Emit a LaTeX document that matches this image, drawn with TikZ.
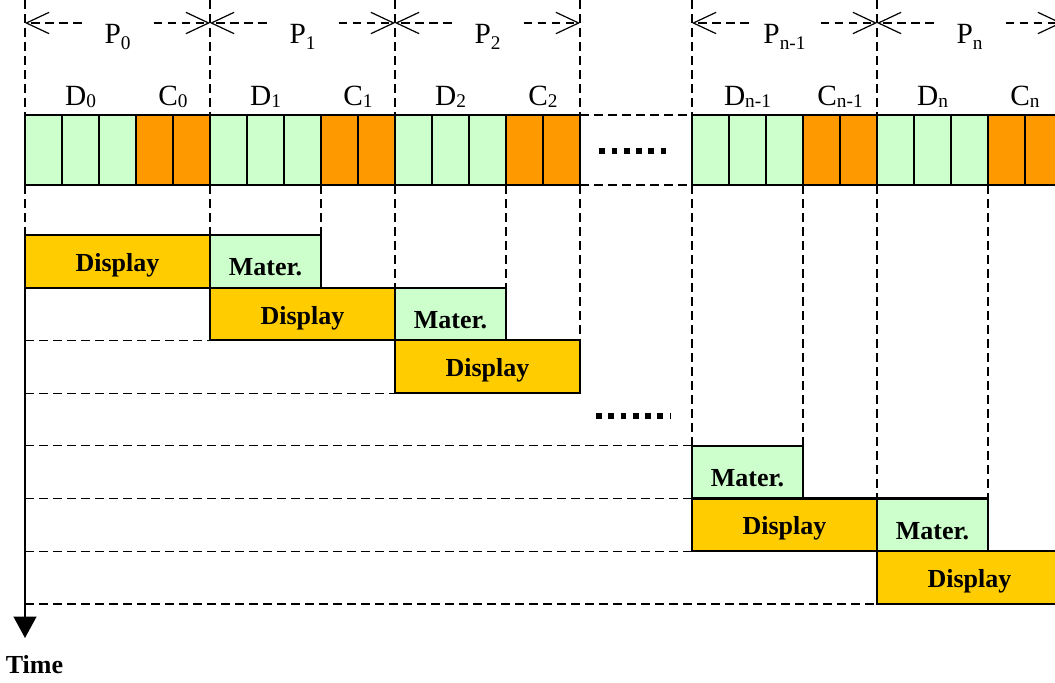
\documentclass[tikz,border=0pt]{standalone}
\usepackage{fontspec}
\setmainfont{Liberation Serif}
\usetikzlibrary{arrows.meta, positioning}

\definecolor{datagreen}{RGB}{204,255,204}
\definecolor{ctrlorange}{RGB}{255,153,0}
\definecolor{showgold}{RGB}{255,204,0}

% Lowered indices for period and part labels
\newcommand\psub[1]{\raisebox{-0.2em}{\fontsize{14.5}{14.5}\selectfont #1}}
\newcommand\dsub[1]{\raisebox{-0.07em}{\fontsize{14.5}{14.5}\selectfont #1}}

% One drawing unit and the row height of the schedule
\def\px{0.75pt}
\def\rowh{52.7}

\begin{document}
\begin{tikzpicture}[x=\px, y=-\px, line join=miter,
    >={Straight Barb[length=17pt, width=16pt]},
    guide/.style={dash pattern=on 6.5pt off 4pt, line width=0.9pt},
    spanarrow/.style={guide, ->},
    cell/.style={draw, line width=1.6pt, inner sep=0, outer sep=0, anchor=north west,
        minimum width=37*\px, minimum height=70*\px},
    dcell/.style={cell, fill=datagreen},
    ccell/.style={cell, fill=ctrlorange},
    lbl/.style={anchor=base, inner sep=0, font=\fontsize{22}{26}\selectfont},
    task/.style={draw, line width=1.6pt, inner sep=0, outer sep=0, anchor=north west,
        minimum height=\rowh*\px, text depth=0pt,
        font=\bfseries\fontsize{19.5}{22}\selectfont},
    disp/.style={task, fill=showgold, minimum width=185*\px, text height=15pt},
    mater/.style={task, fill=datagreen, minimum width=111*\px, text height=21.7pt},
    ellip/.style={line width=4.3pt, dash pattern=on 4.3pt off 4.9pt}]

    % Frame
    \useasboundingbox (0,0) rectangle (1055,682);
    \clip (0,0) rectangle (1055,682);

    % Periods: three data cells and two control cells each
    \foreach \s/\nm/\ix in {25/0/0, 210/1/1, 395/2/2, 692/m/n-1, 877/n/n} {
        \foreach \k in {0,1,2}
            \node[dcell] (c\nm\k) at (\s+\k*37, 115) {};
        \foreach \k in {3,4}
            \node[ccell] (c\nm\k) at (\s+\k*37, 115) {};
        \node[lbl] (d\nm) at ([yshift=7.5pt]c\nm1.north) {D\dsub{\ix}};
        \node[lbl] (k\nm) at ([yshift=7.5pt]c\nm3.north east) {C\dsub{\ix}};

        % Period span
        \coordinate (top\nm) at (\s, 0);
        \coordinate (s\nm) at (\s, 23);
        \coordinate (e\nm) at (\s+185, 23);
        \node[inner sep=0, outer sep=0, minimum width=72*\px] (g\nm) at (\s+92.5, 23) {};
        \node[lbl] (p\nm) at (\s+92.5, 43.3) {P\psub{\ix}};
        \draw[spanarrow] (g\nm.west) -- (s\nm);
        \draw[spanarrow] (g\nm.east) -- (e\nm);
        \draw[guide] (top\nm) -- (c\nm0.north west);
    }
    \coordinate (top3) at (580, 0);
    \draw[guide] (top3) -- (c24.north east);

    % Gap in the stream
    \draw[guide] (c24.north east) -- (cm0.north west);
    \draw[guide] (c24.south east) -- (cm0.south west);
    \coordinate (el1) at (599.3, 151);
    \coordinate (er1) at (672.8, 151);
    \draw[ellip] (el1) -- (er1);

    % Schedule
    \node[disp] (show0) at (25, 235) {Display};
    \node[mater] (mat1) at (show0.north east) {Mater.};
    \node[disp] (show1) at (show0.south east) {Display};
    \node[mater] (mat2) at (show1.north east) {Mater.};
    \node[disp] (show2) at (show1.south east) {Display};
    \node[mater] (matm) at (692, 235+4*\rowh) {Mater.};
    \node[disp] (showm) at (matm.south west) {Display};
    \node[mater] (matn) at (showm.north east) {Mater.};
    \node[disp] (shown) at (showm.south east) {Display};

    \coordinate (el2) at (596, 416);
    \coordinate (er2) at (670, 416);
    \draw[ellip] (el2) -- (er2);

    % Guides down from the stream
    \draw[guide] (c00.south west) -- (show0.north west);
    \draw[guide] (c10.south west) -- (mat1.north west);
    \draw[guide] (c13.south west) -- (mat1.north east);
    \draw[guide] (c20.south west) -- (mat2.north west);
    \draw[guide] (c23.south west) -- (mat2.north east);
    \draw[guide] (c24.south east) -- (show2.north east);
    \draw[guide] (cm0.south west) -- (matm.north west);
    \draw[guide] (cm3.south west) -- (matm.north east);
    \draw[guide] (cn0.south west) -- (matn.north west);
    \draw[guide] (cn3.south west) -- (matn.north east);

    % Time axis
    \coordinate (tend) at (25, 638);
    \draw[line width=1.5pt, -{Triangle[length=16pt, width=17pt]}] (show0.north west) -- (tend);
    \node[anchor=base, inner sep=0, font=\bfseries\fontsize{19.5}{22}\selectfont] (time) at (34.5, 673.3) {Time};

    % Row lines back to the axis
    \draw[guide] (show1.south west -| tend) -- (show1.south west);
    \draw[guide] (show2.south west -| tend) -- (show2.south west);
    \draw[guide] (matm.north west -| tend) -- (matm.north west);
    \draw[guide] (showm.north west -| tend) -- (showm.north west);
    \draw[guide] (showm.south west -| tend) -- (showm.south west);
    \draw[guide] (shown.south west -| tend) -- (shown.south west);

\end{tikzpicture}
\end{document}
